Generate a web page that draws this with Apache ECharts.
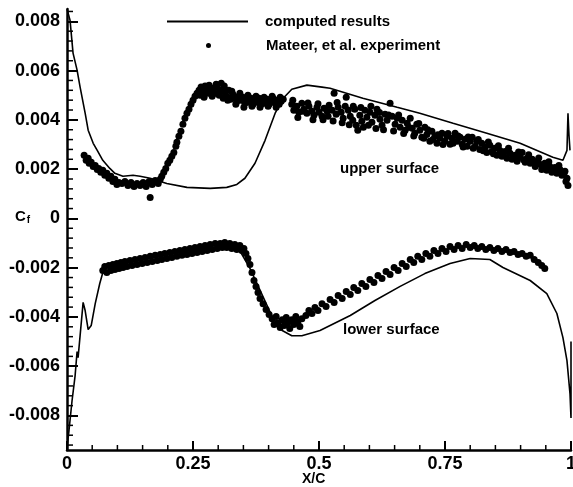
<!DOCTYPE html>
<html>
<head>
<meta charset="utf-8">
<script src="https://cdn.jsdelivr.net/npm/echarts@6/dist/echarts.min.js"></script>
<style>html,body{margin:0;padding:0;background:#fff;overflow:hidden}#c{width:573px;height:487px}</style>
</head>
<body>
<div id="c"></div>
<script>
// computed results (solid line), [X/C, Cf]
const upperComputed = [[0,0.0085],[0.006,0.00805],[0.012,0.00671],[0.020,0.00602],[0.026,0.00533],[0.036,0.00427],[0.042,0.00358],[0.052,0.00305],[0.060,0.00276],[0.071,0.00236],[0.085,0.00203],[0.095,0.00183],[0.111,0.00171],[0.131,0.00175],[0.145,0.00171],[0.165,0.00163],[0.198,0.00142],[0.238,0.00126],[0.284,0.00122],[0.317,0.00126],[0.337,0.00138],[0.353,0.00163],[0.373,0.00224],[0.393,0.00317],[0.413,0.00427],[0.429,0.00488],[0.446,0.00524],[0.476,0.00541],[0.506,0.00533],[0.522,0.00528],[0.587,0.00488],[0.655,0.00451],[0.700,0.00427],[0.766,0.00386],[0.833,0.00346],[0.899,0.00305],[0.964,0.00248],[0.984,0.00236],[0.992,0.00276],[0.994,0.00427],[0.996,0.00337],[0.998,0.00276]];
const lowerComputed = [[0,-0.0093],[0.004,-0.0086],[0.010,-0.0074],[0.016,-0.0064],[0.020,-0.0054],[0.022,-0.00565],[0.026,-0.00476],[0.032,-0.00341],[0.036,-0.00374],[0.042,-0.00451],[0.048,-0.00435],[0.056,-0.00346],[0.065,-0.00264],[0.075,-0.00191],[0.105,-0.00187],[0.165,-0.00163],[0.224,-0.00138],[0.284,-0.00118],[0.337,-0.00110],[0.363,-0.00203],[0.387,-0.00309],[0.407,-0.00398],[0.427,-0.00455],[0.446,-0.00476],[0.466,-0.00476],[0.502,-0.00455],[0.562,-0.00394],[0.611,-0.00333],[0.661,-0.00276],[0.710,-0.00224],[0.760,-0.00183],[0.800,-0.00163],[0.839,-0.00167],[0.865,-0.00199],[0.919,-0.00252],[0.952,-0.00305],[0.972,-0.00386],[0.984,-0.00484],[0.992,-0.00577],[0.998,-0.00711],[1.0,-0.0081],[1.0,-0.0050]];

// Mateer, et al. experiment (dots), [X/C, Cf]
const upperExperiment = [
[0.034,0.00256],[0.038,0.00236],[0.042,0.00244],[0.044,0.00224],[0.048,0.00228],[0.052,0.00211],[0.056,0.00215],[0.060,0.00199],[0.063,0.00203],[0.067,0.00187],[0.071,0.00195],[0.075,0.00175],[0.079,0.00183],[0.083,0.00163],[0.087,0.00171],[0.091,0.00150],[0.095,0.00159],[0.099,0.00138],[0.103,0.00146],
[0.109,0.00142],[0.115,0.00150],[0.121,0.00134],[0.127,0.00146],[0.133,0.00130],[0.139,0.00142],[0.145,0.00134],[0.151,0.00146],[0.157,0.00130],[0.163,0.00150],[0.165,0.00085],[0.169,0.00138],[0.175,0.00154],[0.181,0.00142],[0.185,0.00159],
[0.188,0.00171],[0.192,0.00187],[0.196,0.00203],[0.200,0.00224],[0.204,0.00236],[0.208,0.00252],[0.212,0.00268],[0.216,0.00293],[0.218,0.00309],[0.222,0.00333],[0.226,0.00354],[0.230,0.00382],[0.234,0.00407],[0.238,0.00427],[0.242,0.00443],[0.246,0.00463],[0.250,0.00480],[0.254,0.00496],[0.258,0.00508],
[0.262,0.00520],[0.266,0.00533],[0.270,0.00512],[0.274,0.00537],[0.278,0.00520],[0.282,0.00541],[0.286,0.00516],[0.290,0.00528],[0.294,0.00508],[0.298,0.00533],[0.302,0.00500],[0.306,0.00549],[0.310,0.00488],[0.313,0.00512],[0.317,0.00496],[0.321,0.00520],[0.325,0.00484],[0.329,0.00504],[0.333,0.00492],[0.337,0.00476],[0.341,0.00496],[0.345,0.00480],[0.349,0.00492],[0.353,0.00467],[0.357,0.00484],[0.361,0.00472],[0.365,0.00488],[0.369,0.00463],[0.373,0.00480],[0.377,0.00472],[0.381,0.00488],[0.385,0.00463],[0.389,0.00480],[0.393,0.00467],[0.397,0.00484],[0.401,0.00463],[0.405,0.00476],[0.409,0.00488],[0.413,0.00467],[0.417,0.00480],[0.421,0.00463],[0.425,0.00476],[0.429,0.00484],
[0.264,0.00500],[0.272,0.00492],[0.280,0.00508],[0.288,0.00496],[0.296,0.00545],[0.304,0.00520],[0.312,0.00537],[0.319,0.00480],[0.327,0.00516],[0.335,0.00463],[0.343,0.00508],[0.351,0.00451],[0.359,0.00500],[0.367,0.00455],[0.375,0.00496],[0.383,0.00451],[0.391,0.00492],[0.399,0.00455],[0.407,0.00496],[0.415,0.00451],[0.423,0.00492],
[0.446,0.00463],[0.450,0.00439],[0.456,0.00455],[0.460,0.00431],[0.466,0.00467],[0.470,0.00443],[0.476,0.00427],[0.480,0.00455],[0.486,0.00435],[0.490,0.00419],[0.496,0.00451],[0.500,0.00431],[0.506,0.00415],[0.510,0.00447],[0.516,0.00435],[0.520,0.00459],[0.526,0.00439],[0.530,0.00508],[0.534,0.00423],[0.538,0.00451],[0.544,0.00431],[0.548,0.00407],[0.554,0.00492],[0.558,0.00439],[0.562,0.00415],[0.567,0.00398],[0.571,0.00443],[0.577,0.00358],[0.581,0.00419],[0.585,0.00394],[0.591,0.00439],[0.595,0.00411],[0.601,0.00431],[0.605,0.00390],[0.611,0.00419],[0.615,0.00443],[0.621,0.00402],[0.625,0.00378],[0.631,0.00423],[0.635,0.00398],[0.641,0.00467],[0.645,0.00415],[0.651,0.00382],[0.655,0.00407],[0.661,0.00370],[0.665,0.00398],[0.671,0.00358],[0.675,0.00386],[0.681,0.00407],[0.685,0.00366],[0.690,0.00346],[0.694,0.00382],[0.700,0.00358],[0.704,0.00329],[0.710,0.00370],[0.714,0.00341],[0.720,0.00313],[0.724,0.00354],
[0.448,0.00480],[0.458,0.00410],[0.468,0.00435],[0.478,0.00468],[0.488,0.00400],[0.498,0.00465],[0.508,0.00400],[0.518,0.00415],[0.528,0.00395],[0.536,0.00470],[0.546,0.00388],[0.552,0.00455],[0.560,0.00380],[0.568,0.00455],[0.574,0.00378],[0.583,0.00450],[0.588,0.00370],[0.598,0.00378],[0.603,0.00455],[0.613,0.00365],[0.620,0.00430],[0.628,0.00360],[0.638,0.00420],[0.648,0.00355],[0.658,0.00420],[0.668,0.00345],[0.678,0.00370],[0.688,0.00335],[0.698,0.00385],[0.708,0.00325],[0.716,0.00360],[0.726,0.00320],
[0.730,0.00333],[0.734,0.00305],[0.740,0.00325],[0.744,0.00346],[0.750,0.00313],[0.754,0.00333],[0.760,0.00301],[0.764,0.00325],[0.770,0.00346],[0.774,0.00313],[0.780,0.00329],[0.784,0.00301],[0.790,0.00321],[0.794,0.00293],[0.800,0.00313],[0.804,0.00329],[0.810,0.00293],[0.813,0.00313],[0.819,0.00280],[0.823,0.00305],[0.829,0.00289],[0.833,0.00268],[0.839,0.00297],[0.843,0.00272],[0.849,0.00285],[0.853,0.00256],[0.859,0.00276],[0.863,0.00252],[0.869,0.00272],[0.873,0.00244],[0.879,0.00264],[0.883,0.00240],[0.889,0.00256],[0.893,0.00232],[0.899,0.00248],[0.903,0.00268],[0.909,0.00228],[0.913,0.00244],[0.919,0.00224],[0.923,0.00240],[0.929,0.00211],[0.933,0.00232],[0.938,0.00220],[0.942,0.00199],[0.948,0.00224],[0.952,0.00195],[0.958,0.00211],[0.962,0.00187],[0.968,0.00207],[0.972,0.00183],[0.978,0.00199],[0.982,0.00175],[0.988,0.00191],[0.992,0.00163],[0.994,0.00134],
[0.736,0.00340],[0.746,0.00300],[0.756,0.00345],[0.766,0.00305],[0.776,0.00335],[0.786,0.00290],[0.796,0.00330],[0.806,0.00285],[0.816,0.00320],[0.826,0.00275],[0.836,0.00310],[0.846,0.00262],[0.856,0.00295],[0.866,0.00258],[0.876,0.00285],[0.886,0.00248],[0.896,0.00270],[0.906,0.00238],[0.916,0.00258],[0.926,0.00225],[0.936,0.00245],[0.946,0.00210],[0.956,0.00230],[0.966,0.00195],[0.976,0.00215],[0.986,0.00180],[0.990,0.00150]];

const lowerExperiment = [
[0.071,-0.00211],[0.075,-0.00195],[0.079,-0.00220],[0.083,-0.00191],[0.087,-0.00211],[0.091,-0.00187],[0.095,-0.00207],[0.099,-0.00183],[0.103,-0.00203],[0.107,-0.00179],[0.111,-0.00199],[0.115,-0.00175],[0.119,-0.00195],[0.125,-0.00171],[0.129,-0.00191],[0.135,-0.00167],[0.139,-0.00187],[0.145,-0.00163],[0.149,-0.00183],[0.155,-0.00159],[0.159,-0.00179],[0.165,-0.00154],[0.169,-0.00175],[0.175,-0.00150],[0.179,-0.00171],[0.185,-0.00146],[0.188,-0.00167],[0.194,-0.00142],[0.198,-0.00163],[0.204,-0.00138],[0.208,-0.00159],[0.214,-0.00134],[0.218,-0.00154],[0.224,-0.00130],[0.228,-0.00150],[0.234,-0.00126],[0.238,-0.00146],[0.244,-0.00122],[0.248,-0.00142],[0.254,-0.00118],[0.258,-0.00138],[0.264,-0.00114],[0.268,-0.00134],[0.274,-0.00110],[0.278,-0.00130],[0.284,-0.00106],[0.288,-0.00126],[0.294,-0.00102],[0.298,-0.00122],[0.304,-0.00102],[0.308,-0.00118],[0.313,-0.00098],[0.317,-0.00118],[0.323,-0.00102],[0.327,-0.00122],[0.333,-0.00106],[0.337,-0.00126],[0.343,-0.00110],[0.347,-0.00130],[0.351,-0.00122],[0.355,-0.00142],[0.359,-0.00163],[0.363,-0.00187],[0.367,-0.00220],[0.371,-0.00252],[0.375,-0.00276],[0.379,-0.00301],[0.383,-0.00325],[0.389,-0.00346],[0.395,-0.00370],[0.401,-0.00390],
[0.407,-0.00407],[0.411,-0.00431],[0.415,-0.00398],[0.419,-0.00423],[0.423,-0.00443],[0.427,-0.00411],[0.431,-0.00435],[0.435,-0.00402],[0.438,-0.00423],[0.442,-0.00447],[0.446,-0.00411],[0.450,-0.00431],[0.454,-0.00398],[0.458,-0.00419],[0.462,-0.00439],[0.466,-0.00407],
[0.474,-0.00394],[0.480,-0.00374],[0.486,-0.00386],[0.492,-0.00362],[0.498,-0.00374],[0.506,-0.00346],[0.514,-0.00358],[0.522,-0.00329],[0.530,-0.00341],[0.538,-0.00313],[0.546,-0.00325],[0.554,-0.00297],[0.562,-0.00309],[0.569,-0.00280],[0.577,-0.00293],[0.585,-0.00264],[0.593,-0.00276],[0.601,-0.00248],[0.609,-0.00260],[0.617,-0.00232],[0.625,-0.00244],[0.633,-0.00215],[0.641,-0.00228],[0.649,-0.00199],[0.657,-0.00211],[0.665,-0.00183],[0.673,-0.00195],[0.681,-0.00167],[0.688,-0.00179],[0.696,-0.00154],[0.704,-0.00167],[0.712,-0.00142],[0.720,-0.00154],[0.728,-0.00130],[0.736,-0.00142],[0.744,-0.00122],[0.752,-0.00134],[0.760,-0.00114],[0.768,-0.00126],[0.776,-0.00110],[0.784,-0.00122],[0.792,-0.00106],[0.800,-0.00118],[0.808,-0.00110],[0.815,-0.00122],[0.823,-0.00114],[0.831,-0.00126],[0.839,-0.00118],[0.847,-0.00130],[0.855,-0.00122],[0.863,-0.00134],[0.871,-0.00126],[0.879,-0.00138],[0.887,-0.00134],[0.895,-0.00146],[0.903,-0.00142],[0.911,-0.00154],[0.919,-0.00150],[0.927,-0.00167],[0.935,-0.00179],[0.942,-0.00191],[0.948,-0.00203]];

// axis ticks
const xTickLabels = ['0', '0.25', '0.5', '0.75', '1'];
const xMinorTickValues = [0.05, 0.1, 0.15, 0.2, 0.3, 0.35, 0.4, 0.45, 0.55, 0.6, 0.65, 0.7, 0.8, 0.85, 0.9, 0.95];
const yTickValues = [-0.008, -0.006, -0.004, -0.002, 0, 0.002, 0.004, 0.006, 0.008];
const yMinorTickValues = [-0.0092, -0.0088, -0.0084, -0.0076, -0.0072, -0.0068, -0.0064, -0.0056, -0.0052, -0.0048, -0.0044, -0.0036, -0.0032, -0.0028, -0.0024, -0.0016, -0.0012, -0.0008, -0.0004, 0.0004, 0.0008, 0.0012, 0.0016, 0.0024, 0.0028, 0.0032, 0.0036, 0.0044, 0.0048, 0.0052, 0.0056, 0.0064, 0.0068, 0.0072, 0.0076, 0.0084];

const Y_MIN = -0.0094, Y_MAX = 0.0085;
const chart = echarts.init(document.getElementById('c'), null, {renderer: 'canvas', width: 573, height: 487});
const FONT = 'Liberation Sans, Arial, sans-serif';
const yLabel = v => Math.abs(v) < 1e-12 ? '0' : v.toFixed(3);

// short inward minor tick marks, placed at the tick values through the axis scales
function tickMarks(points, size, offset) {
  return {type: 'scatter', data: points, symbol: 'rect', symbolSize: size, symbolOffset: offset,
    itemStyle: {color: '#000', opacity: 1}, silent: true, clip: false, z: 6, legendHoverLink: false,
    emphasis: {disabled: true}};
}

chart.setOption({
  animation: false,
  backgroundColor: '#fff',
  tooltip: {show: false},
  grid: {left: 67, right: 2, top: 9, bottom: 37, containLabel: false, outerBoundsMode: 'none'},
  legend: [
    {data: [{name: 'computed results', icon: 'rect'}], left: 167, top: 14, padding: 0, itemWidth: 81, itemHeight: 2,
     itemStyle: {color: '#000'},
     textStyle: {fontFamily: FONT, fontWeight: 'bold', fontSize: 15, color: '#000', padding: [0,0,0,12]}},
    {data: [{name: 'Mateer, et al. experiment', icon: 'circle'}], left: 206, top: 38, padding: 0, itemWidth: 81, itemHeight: 5,
     itemStyle: {color: '#000', opacity: 1},
     textStyle: {fontFamily: FONT, fontWeight: 'bold', fontSize: 15, color: '#000', padding: [0,0,0,12]}}
  ],
  xAxis: {
    type: 'value', min: 0, max: 1, interval: 0.25,
    axisLine: {show: true, onZero: false, lineStyle: {color: '#000', width: 2.5}},
    axisTick: {show: true, inside: true, length: 9, lineStyle: {color: '#000', width: 2}},
    splitLine: {show: false},
    axisLabel: {margin: 5, fontFamily: FONT, fontWeight: 'bold', fontSize: 18, color: '#000',
      formatter: v => xTickLabels[Math.round(v / 0.25)] || ''}
  },
  yAxis: {
    type: 'value', min: Y_MIN, max: Y_MAX,
    axisLine: {show: true, onZero: false, lineStyle: {color: '#000', width: 2.5}},
    axisTick: {show: true, inside: true, length: 11, customValues: yTickValues, lineStyle: {color: '#000', width: 2}},
    splitLine: {show: false},
    axisLabel: {margin: 7, customValues: yTickValues, fontFamily: FONT, fontWeight: 'bold', fontSize: 18, color: '#000',
      formatter: yLabel}
  },
  series: [
    {name: 'Mateer, et al. experiment', type: 'scatter', data: upperExperiment, symbol: 'circle', symbolSize: 7,
     itemStyle: {color: '#000', opacity: 1}, z: 2},
    {name: 'Mateer, et al. experiment', type: 'scatter', data: lowerExperiment, symbol: 'circle', symbolSize: 7,
     itemStyle: {color: '#000', opacity: 1}, z: 2},
    {name: 'computed results', type: 'line', data: upperComputed, symbol: 'none', showSymbol: false,
     lineStyle: {color: '#000', width: 1.6}, itemStyle: {color: '#000'}, z: 3},
    {name: 'computed results', type: 'line', data: lowerComputed, symbol: 'none', showSymbol: false,
     lineStyle: {color: '#000', width: 1.6}, itemStyle: {color: '#000'}, z: 3},
    tickMarks(yMinorTickValues.map(v => [0, v]), [6, 1.5], [3, 0]),
    tickMarks(xMinorTickValues.map(v => [v, Y_MIN]), [1.5, 5], [0, -2.5])
  ],
  graphic: [
    {type: 'text', left: 15, top: 209, style: {
      text: '{c|C}{f|f}', fill: '#000',
      rich: {c: {fontFamily: FONT, fontWeight: 'bold', fontSize: 15, fill: '#000'},
             f: {fontFamily: FONT, fontWeight: 'bold', fontSize: 10, fill: '#000', verticalAlign: 'bottom', padding: [8,0,0,1]}}}},
    {type: 'text', left: 302, top: 472, style: {text: 'X/C', fontFamily: FONT, fontWeight: 'bold', fontSize: 14, fill: '#000'}},
    {type: 'text', left: 340, top: 161, style: {text: 'upper surface', fontFamily: FONT, fontWeight: 'bold', fontSize: 15, fill: '#000'}},
    {type: 'text', left: 343, top: 322, style: {text: 'lower surface', fontFamily: FONT, fontWeight: 'bold', fontSize: 15, fill: '#000'}}
  ]
});
</script>
</body>
</html>
